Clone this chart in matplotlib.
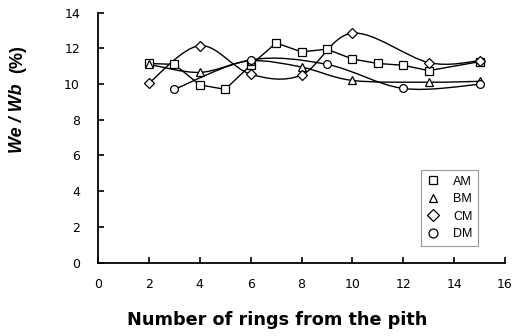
import numpy as np
import matplotlib
matplotlib.use("Agg")
import matplotlib.pyplot as plt
from matplotlib.path import Path
from matplotlib.patches import PathPatch
from matplotlib.lines import Line2D

plt.rcParams['font.family'] = ['Liberation Sans', 'DejaVu Sans']

am_x = [2, 3, 4, 5, 6, 7, 8, 9, 10, 11, 12, 13, 15]
am_y = [11.15, 11.1, 9.95, 9.7, 11.05, 12.3, 11.8, 11.95, 11.4, 11.15, 11.05, 10.75, 11.25]

bm_x = [2, 4, 6, 8, 10, 13, 15]
bm_y = [11.1, 10.65, 11.3, 10.95, 10.2, 10.1, 10.15]

cm_x = [2, 4, 6, 8, 10, 13, 15]
cm_y = [10.05, 12.15, 10.55, 10.5, 12.85, 11.2, 11.3]

dm_x = [3, 6, 9, 12, 15]
dm_y = [9.7, 11.35, 11.1, 9.75, 9.98]

x_ticks = [0, 2, 4, 6, 8, 10, 12, 14, 16]
y_ticks = [0, 2, 4, 6, 8, 10, 12, 14]


def smooth_path(xs, ys):
    """Cubic Bezier path through the points (Catmull-Rom style smoothing)."""
    p = np.column_stack([xs, ys]).astype(float)
    n = len(p)
    verts = [p[0]]
    codes = [Path.MOVETO]
    for i in range(n - 1):
        p0 = p[i - 1] if i > 0 else p[i]
        p1 = p[i]
        p2 = p[i + 1]
        p3 = p[i + 2] if i + 2 < n else p[i + 1]
        c1 = p1 + (p2 - p0) / 6.0
        c2 = p2 - (p3 - p1) / 6.0
        verts += [c1, c2, p2]
        codes += [Path.CURVE4] * 3
    return Path(verts, codes)


W, H = 514, 336
fig = plt.figure(figsize=(W / 100, H / 100), dpi=100)
ax = fig.add_axes([98 / W, 1 - 262.5 / H, (505 - 98) / W, (262.5 - 12.6) / H])

lw = 1.0
ms = 5.6
mk = dict(markerfacecolor='white', markeredgecolor='black', markeredgewidth=0.9,
          markersize=ms, linestyle='none', zorder=4)
mk_d = {**mk, 'markersize': ms * 0.9}

# AM: straight segments
ax.plot(am_x, am_y, color='black', lw=lw, zorder=2)
# BM, CM, DM: smoothed curves
for xs, ys in [(bm_x, bm_y), (cm_x, cm_y), (dm_x, dm_y)]:
    ax.add_patch(PathPatch(smooth_path(xs, ys), facecolor='none', edgecolor='black',
                           lw=lw, zorder=2))

ax.plot(am_x, am_y, marker='s', **mk)
ax.plot(bm_x, bm_y, marker='^', **mk)
ax.plot(cm_x, cm_y, marker='D', **mk_d)
ax.plot(dm_x, dm_y, marker='o', **mk)

ax.set_xlim(0, 16)
ax.set_ylim(0, 14)
ax.set_xticks(x_ticks)
ax.set_yticks(y_ticks)
ax.spines['top'].set_visible(False)
ax.spines['right'].set_visible(False)
ax.spines['left'].set_linewidth(1.3)
ax.spines['bottom'].set_linewidth(1.3)
ax.tick_params(direction='in', length=4, width=1.2, labelsize=9)
ax.tick_params(axis='y', pad=13)
ax.tick_params(axis='x', pad=11.5)
for lab in ax.get_xticklabels() + ax.get_yticklabels():
    lab.set_family('DejaVu Sans')

handles = [
    Line2D([], [], marker='s', **mk),
    Line2D([], [], marker='^', **mk),
    Line2D([], [], marker='D', **mk_d),
    Line2D([], [], marker='o', **mk),
]
leg = ax.legend(handles, ['AM', 'BM', 'CM', 'DM'], loc='lower right',
                bbox_to_anchor=(0.934, 0.066), fontsize=9, frameon=True,
                fancybox=False, handlelength=1.0, handletextpad=1.1,
                borderpad=0.45, labelspacing=0.45, markerscale=1.15,
                borderaxespad=0)
leg.get_frame().set_edgecolor('#808080')
leg.get_frame().set_linewidth(0.8)

fig.text(277 / W, 1 - 325 / H, 'Number of rings from the pith', ha='center',
         va='baseline', fontsize=12.7, fontweight='bold', family='DejaVu Sans')

fig.text(18 / W, 1 - 153 / H, 'We / Wb', rotation=90, ha='center', va='bottom',
         fontsize=13, fontweight='bold', style='italic')
fig.text(18 / W, 1 - 45 / H, '(%)', rotation=90, ha='center', va='top',
         fontsize=13, fontweight='bold')

fig.savefig('out.png', dpi=100)
